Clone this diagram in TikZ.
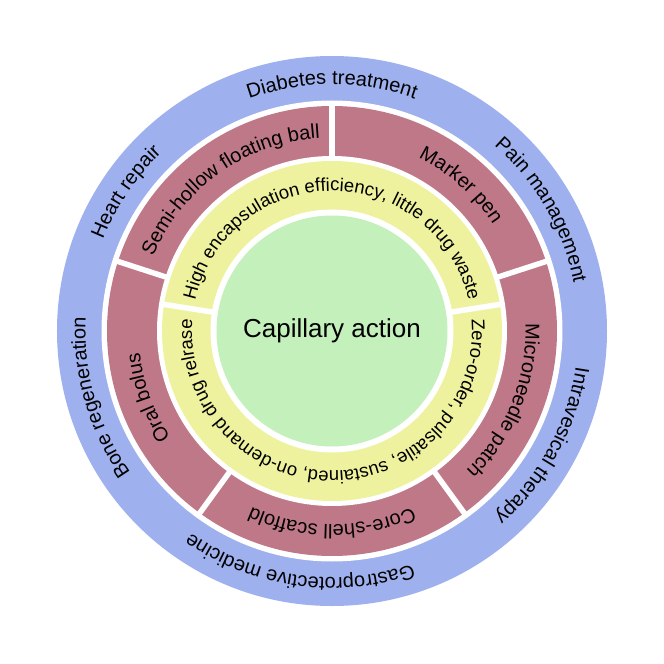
\documentclass[tikz,border=0pt]{standalone}
\usepackage{fontspec}
\setmainfont{Liberation Sans}
\usetikzlibrary{decorations.text}
\definecolor{ringblue}{RGB}{158,176,237}
\definecolor{ringred}{RGB}{191,120,136}
\definecolor{ringyellow}{RGB}{238,242,158}
\definecolor{coregreen}{RGB}{196,240,188}
\newcommand\ringfont{\fontsize{20}{24}\selectfont}
\newcommand\innerfont{\fontsize{18.5}{22}\selectfont}
\tikzset{
  gapline/.style={draw=white, line width=5.5pt},
  arclabel/.style={decorate, decoration={text along path, text align=center, text={#1}}},
  corelabel/.style={font=\fontsize{26}{30}\selectfont, inner sep=0pt}
}

\begin{document}
\begin{tikzpicture}
\useasboundingbox (-332pt,-333pt) rectangle (332pt,331pt);
% rings, outside in
\fill[ringblue] (0,0) circle (275pt);
\fill[white] (0,0) circle (230.5pt);
\fill[ringred] (0,0) circle (225pt);
\fill[white] (0,0) circle (175pt);
\fill[ringyellow] (0,0) circle (170pt);
\fill[white] (0,0) circle (121.5pt);
\fill[coregreen] (0,0) circle (115.5pt);
% white cuts between the segments
\draw[gapline] (18:172pt) -- (18:228pt) (90:172pt) -- (90:228pt) (162:172pt) -- (162:228pt)
  (234:172pt) -- (234:228pt) (306:172pt) -- (306:228pt);
\draw[gapline] (9:118pt) -- (9:173pt) (171:118pt) -- (171:173pt);
% outer ring
\path[arclabel={|\ringfont|Diabetes treatment}] (140:246.5pt) arc[start angle=140, end angle=40, radius=246.5pt];
\path[arclabel={|\ringfont|Pain management}] (80:246.5pt) arc[start angle=80, end angle=-20, radius=246.5pt];
\path[arclabel={|\ringfont|Intravesical therapy}] (21.5:246.5pt) arc[start angle=21.5, end angle=-78.5, radius=246.5pt];
\path[arclabel={|\ringfont|Gastroprotective medicine}] (-48:246.5pt) arc[start angle=-48, end angle=-148, radius=246.5pt];
\path[arclabel={|\ringfont|Bone regeneration}] (246:246.5pt) arc[start angle=246, end angle=146, radius=246.5pt];
\path[arclabel={|\ringfont|Heart repair}] (196:246.5pt) arc[start angle=196, end angle=96, radius=246.5pt];
% middle ring
\path[arclabel={|\ringfont|Semi-hollow floating ball}] (161.5:193.5pt) arc[start angle=161.5, end angle=89.5, radius=193.5pt];
\path[arclabel={|\ringfont|Marker pen}] (84.5:193.5pt) arc[start angle=84.5, end angle=12.5, radius=193.5pt];
\path[arclabel={|\ringfont|Microneedle patch}] (14:193.5pt) arc[start angle=14, end angle=-58, radius=193.5pt];
\path[arclabel={|\ringfont|Core-shell scaffold}] (-54:193.5pt) arc[start angle=-54, end angle=-126, radius=193.5pt];
\path[arclabel={|\ringfont|Oral bolus}] (236:193.5pt) arc[start angle=236, end angle=164, radius=193.5pt];
% inner ring
\path[arclabel={|\innerfont|High encapsulation efficiency, little drug waste}] (171:140pt) arc[start angle=171, end angle=9, radius=140pt];
\path[arclabel={|\innerfont|Zero-order, pulsatile, sustained, on-demand drug relrase}] (9:140pt) arc[start angle=9, end angle=-189, radius=140pt];
\node[corelabel] (core) at (0,0) {Capillary action};
\end{tikzpicture}
\end{document}
